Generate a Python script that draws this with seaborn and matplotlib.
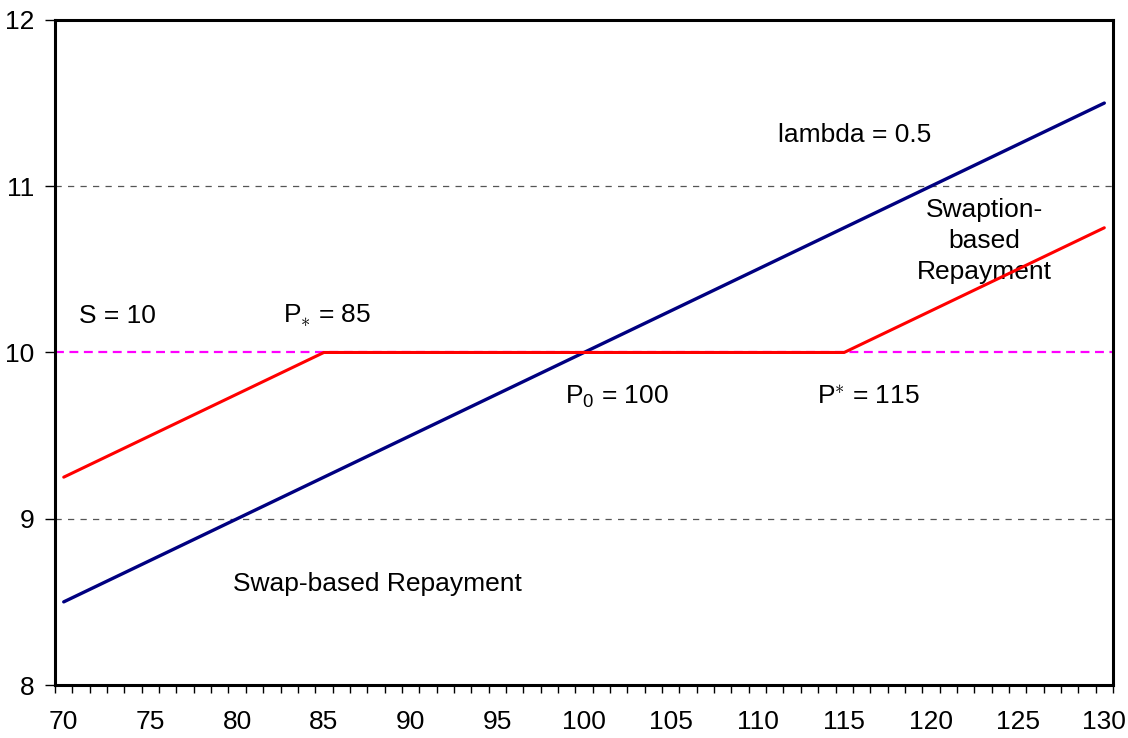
import numpy as np
import pandas as pd
import matplotlib
matplotlib.use("Agg")
import matplotlib.pyplot as plt
import seaborn as sns

# Chart data
swap_x = [70, 130]
swap_y = [8.5, 11.5]
swaption_x = [70, 85, 115, 130]
swaption_y = [9.25, 10.0, 10.0, 10.75]
strike_level = 10
x_labels = [70, 75, 80, 85, 90, 95, 100, 105, 110, 115, 120, 125, 130]
y_labels = [8, 9, 10, 11, 12]

sns.set_style("white")
plt.rcParams['font.family'] = ['Liberation Sans', 'DejaVu Sans']
plt.rcParams['mathtext.fontset'] = 'custom'
plt.rcParams['mathtext.rm'] = 'Liberation Sans'
plt.rcParams['mathtext.it'] = 'Liberation Sans'
plt.rcParams['text.color'] = 'black'
plt.rcParams['xtick.color'] = 'black'
plt.rcParams['ytick.color'] = 'black'

fig = plt.figure(figsize=(11.28, 7.38), dpi=100)
ax = fig.add_axes([0.0488, 0.0718, 0.9379, 0.9012])

# gridlines
for yv in [9, 11]:
    ax.axhline(yv, color='#555555', lw=0.9, ls=(0, (5, 5)), zorder=1)
ax.axhline(strike_level, color='#FF00FF', lw=1.6, ls=(0, (4, 2.5)), zorder=2)

swap_df = pd.DataFrame({'x': swap_x, 'y': swap_y})
swaption_df = pd.DataFrame({'x': swaption_x, 'y': swaption_y})
sns.lineplot(data=swap_df, x='x', y='y', ax=ax, color='#000080', lw=2.4, zorder=3)
sns.lineplot(data=swaption_df, x='x', y='y', ax=ax, color='#FF0000', lw=2.2, zorder=4)

ax.set_xlim(69.5, 130.5)
ax.set_ylim(8, 12)
ax.set_xlabel('')
ax.set_ylabel('')

ax.set_xticks(x_labels)
ax.set_xticklabels([str(v) for v in x_labels])
ax.set_xticks(np.arange(69.5, 131, 1.0), minor=True)
ax.tick_params(axis='x', which='major', length=0, pad=18, labelsize=19)
ax.tick_params(axis='x', which='minor', length=6, width=1, direction='out', bottom=True)
ax.set_yticks(y_labels)
ax.tick_params(axis='y', which='major', length=7, width=1, direction='out', left=True, labelsize=19, pad=8)

for sp in ax.spines.values():
    sp.set_color('black')
    sp.set_linewidth(2.2)

fs = 19
ax.text(115.6, 11.31, 'lambda = 0.5', ha='center', va='center', fontsize=fs)
ax.text(123.1, 10.67, 'Swaption-\nbased\nRepayment', ha='center', va='center', fontsize=fs, linespacing=1.35)
ax.text(73.1, 10.22, 'S = 10', ha='center', va='center', fontsize=fs)
ax.text(85.2, 10.22, r'P$_{\ast}$ = 85', ha='center', va='center', fontsize=fs)
ax.text(101.9, 9.73, r'P$_0$ = 100', ha='center', va='center', fontsize=fs)
ax.text(116.4, 9.73, r'P$^{\ast}$ = 115', ha='center', va='center', fontsize=fs)
ax.text(88.06, 8.61, 'Swap-based Repayment', ha='center', va='center', fontsize=fs)

fig.savefig('out.png', dpi=100)
